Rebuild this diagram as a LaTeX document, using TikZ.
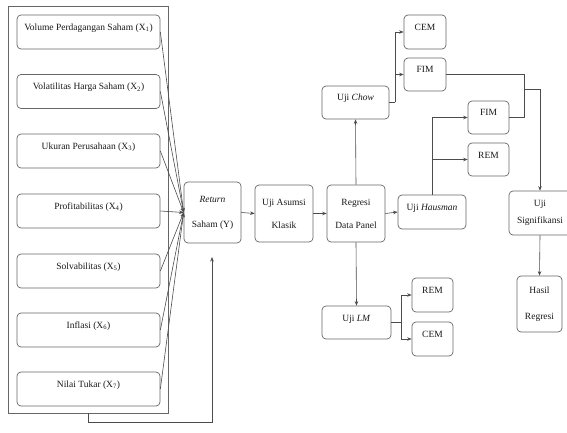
\documentclass[tikz,border=0pt]{standalone}
\usepackage{fontspec}
\setmainfont{Liberation Serif}
\usetikzlibrary{arrows.meta}
\begin{document}
\begin{tikzpicture}[x=1pt,y=-1pt, font=\fontsize{9.5}{11.5}\selectfont,
  box/.style={draw=black!60, line width=0.7pt, rounded corners=4pt, inner sep=1pt, text=black!90, align=center},
  one/.style={text height=7pt, text depth=10pt},
  ln/.style={draw=black!70, line width=0.6pt},
  arr/.style={ln, -{Stealth[length=4.5pt,width=3.5pt]}}]
\useasboundingbox (0,0) rectangle (567,433);
\fill[white] (0,0) rectangle (567,433);
% left panel
\node[draw=black!60, line width=0.7pt, minimum width=160pt, minimum height=407pt, inner sep=0pt] (outer) at (88,209.5) {};
\node[box,one,minimum width=143pt,minimum height=34pt] (x1) at (88.5,32) {Volume Perdagangan Saham (X\textsubscript{1})};
\node[box,one,minimum width=143pt,minimum height=34pt] (x2) at (88.5,91.5) {Volatilitas Harga Saham (X\textsubscript{2})};
\node[box,one,minimum width=143pt,minimum height=34pt] (x3) at (88.5,151) {Ukuran Perusahaan (X\textsubscript{3})};
\node[box,one,minimum width=143pt,minimum height=34pt] (x4) at (88.5,211) {Profitabilitas (X\textsubscript{4})};
\node[box,one,minimum width=143pt,minimum height=34pt] (x5) at (88.5,271) {Solvabilitas (X\textsubscript{5})};
\node[box,one,minimum width=143pt,minimum height=34pt] (x6) at (88.5,330) {Inflasi (X\textsubscript{6})};
\node[box,one,minimum width=143pt,minimum height=34pt] (x7) at (88.5,389) {Nilai Tukar (X\textsubscript{7})};
% main chain
\node[box,minimum width=57pt,minimum height=61pt] (ret) at (212.5,212.5) {\textit{Return}\\[13.5pt]Saham (Y)};
\node[box,minimum width=58pt,minimum height=57pt] (asumsi) at (284,213.5) {Uji Asumsi\\[11.5pt]Klasik};
\node[box,minimum width=58pt,minimum height=57pt] (regresi) at (356,213.5) {Regresi\\[11.5pt]Data Panel};
\node[box,one,minimum width=68pt,minimum height=34pt] (hausman) at (432,212) {Uji \textit{Hausman}};
\node[box,one,minimum width=67pt,minimum height=33pt] (chow) at (355.5,102.5) {Uji \textit{Chow}};
\node[box,one,minimum width=69pt,minimum height=33pt] (lm) at (356.5,322.5) {Uji \textit{LM}};
\node[box,one,minimum width=42pt,minimum height=34pt] (cem1) at (425,32) {CEM};
\node[box,one,minimum width=42pt,minimum height=33pt] (fim1) at (425,74.5) {FIM};
\node[box,one,minimum width=41pt,minimum height=33pt] (fim2) at (488.5,117.5) {FIM};
\node[box,one,minimum width=41pt,minimum height=33pt] (rem2) at (488.5,159.5) {REM};
\node[box,one,minimum width=41pt,minimum height=34pt] (rem3) at (432.5,295) {REM};
\node[box,one,minimum width=41pt,minimum height=34pt] (cem3) at (432.5,339) {CEM};
\node[box,minimum width=62pt,minimum height=44pt] (signif) at (540,213) {Uji\\[5pt]Signifikansi};
\node[box,minimum width=45pt,minimum height=56pt] (hasil) at (539.5,304) {Hasil\\[14.5pt]Regresi};
% connectors from variables
\foreach \i in {1,...,7} \draw[arr] (x\i.east) -- (ret.west);
\coordinate (fb1) at (88,422);
\coordinate (fbt) at (212,257);
\draw[arr] (outer.south -| fb1) -- (fb1) -| (fbt);
\draw[arr] (ret.east) -- (asumsi.west);
\draw[arr] (asumsi.east) -- (regresi.west);
\draw[arr] (regresi.east) -- (hausman.west);
\draw[arr] (regresi.north) -- (chow.south);
\draw[arr] (regresi.south) -- (lm.north);
% Chow branches
\coordinate (cj) at (395,0);
\draw[ln] (chow.east) -- (chow.east -| cj);
\draw[arr] (chow.east -| cj) |- (cem1.west);
\draw[arr] (chow.east -| cj) |- (fim1.west);
% Hausman branches
\draw[arr] (hausman.north) |- (fim2.west);
\draw[arr] (hausman.north |- rem2.west) -- (rem2.west);
% LM branches
\coordinate (lj) at (401,0);
\draw[ln] (lm.east) -- (lm.east -| lj);
\draw[arr] (lm.east -| lj) |- (rem3.west);
\draw[arr] (lm.east -| lj) |- (cem3.west);
% FIM to significance
\coordinate (j) at (524,89);
\draw[ln] (fim1.east) -| (j);
\draw[ln] (fim2.east) -| (j);
\draw[arr] (j) -| (signif.north);
\draw[arr] (signif.south) -- (hasil.north);
\end{tikzpicture}
\end{document}
